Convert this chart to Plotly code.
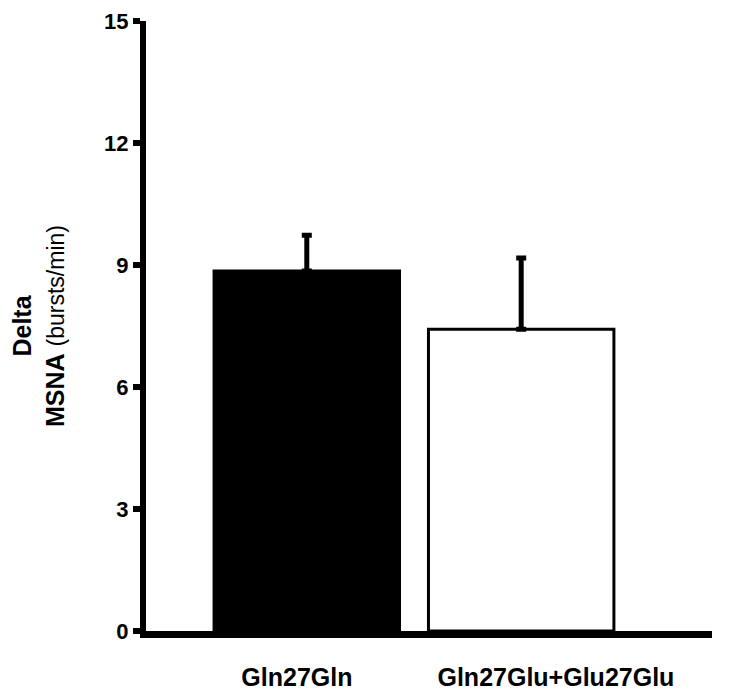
import plotly.graph_objects as go

# data
groups = ["Gln27Gln", "Gln27Glu+Glu27Glu"]
bar_pos = [0, 1]
means = [8.85, 7.42]
errors = [0.88, 1.75]
fills = ["#000000", "#ffffff"]
label_pos = [-0.046, 1.162]
y_ticks = [0, 3, 6, 9, 12, 15]

fig = go.Figure()
fig.add_trace(go.Bar(
    x=bar_pos,
    y=means,
    width=0.865,
    marker=dict(color=fills, line=dict(color="#000000", width=3)),
    error_y=dict(
        type="data", symmetric=False, array=errors,
        arrayminus=[0, 0], color="#000000", thickness=5, width=5
    ),
))

# margins account for the page's default body offset (~8px)
fig.update_layout(
    width=750,
    height=696,
    margin=dict(l=138, r=46, t=13, b=73),
    plot_bgcolor="#ffffff",
    paper_bgcolor="#ffffff",
    showlegend=False,
    font=dict(family="Liberation Sans, Arial", color="#000000"),
)

fig.update_xaxes(
    range=[-0.75, 1.89],
    tickvals=label_pos,
    ticktext=["<b>%s</b>" % g for g in groups],
    ticks="",
    showgrid=False,
    zeroline=False,
    showline=True,
    linecolor="#000000",
    linewidth=7,
    tickfont=dict(size=25),
    ticklabelstandoff=18,
    automargin=False,
)

fig.update_yaxes(
    range=[0, 15],
    tickvals=y_ticks,
    ticktext=["<b>%d</b>" % t for t in y_ticks],
    ticks="outside",
    ticklen=7,
    tickwidth=6,
    tickcolor="#000000",
    ticklabeloverflow="allow",
    showgrid=False,
    zeroline=False,
    showline=True,
    linecolor="#000000",
    linewidth=6,
    tickfont=dict(size=22),
    automargin=False,
    title=dict(
        text="<b>Delta</b><br><b>MSNA</b> "
             "<span style='font-size:23px'>(bursts/min)</span>",
        font=dict(size=25),
        standoff=35,
    ),
)

fig.write_html("out.html")
